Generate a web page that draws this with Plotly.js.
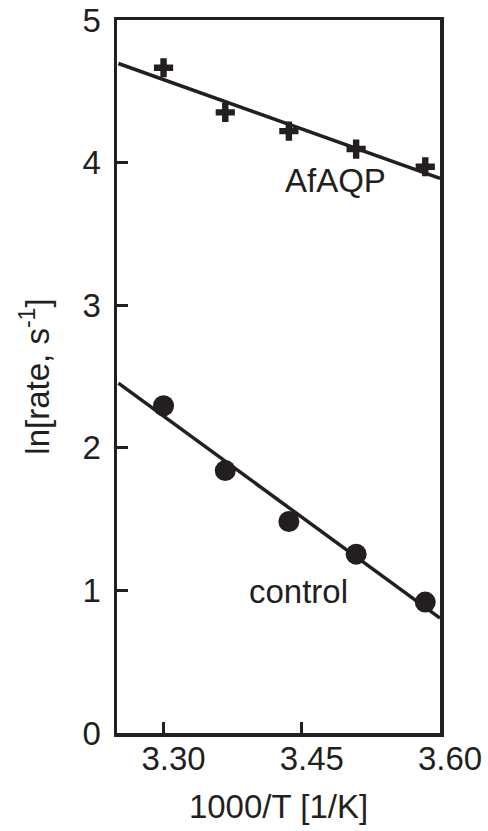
<!DOCTYPE html>
<html>
<head>
<meta charset="utf-8">
<script src="https://cdn.plot.ly/plotly-3.0.1.min.js"></script>
<style>html,body{margin:0;padding:0;background:#fff;}#chart{width:488px;height:831px;}</style>
</head>
<body>
<div id="chart"></div>
<script>
// 1000/T values (1/K)
const invT = [3.300, 3.367, 3.436, 3.509, 3.584];
// ln(rate) values
const afaqp = [4.665, 4.352, 4.221, 4.095, 3.971];
const control = [2.295, 1.840, 1.483, 1.254, 0.918];
// fitted lines (endpoints)
const fitX = [3.251, 3.600];
const afaqpFit = [4.695, 3.889];
const controlFit = [2.453, 0.806];
const xTicks = [3.30, 3.45, 3.60];
const xTickText = ['3.30', '3.45', '3.60'];
const yTicks = [0, 1, 2, 3, 4, 5];

const ink = '#231f20';
const font = 'Liberation Sans, Arial, sans-serif';
const fs = 33;

const traces = [
  {x: fitX, y: afaqpFit, mode: 'lines', line: {color: ink, width: 3.5}, showlegend: false, hoverinfo: 'skip'},
  {x: fitX, y: controlFit, mode: 'lines', line: {color: ink, width: 3.5}, showlegend: false, hoverinfo: 'skip'},
  {x: invT, y: afaqp, mode: 'markers', name: 'AfAQP', marker: {symbol: 'cross', size: 16, color: ink}, showlegend: false},
  {x: invT, y: control, mode: 'markers', name: 'control', marker: {symbol: 'circle', size: 21, color: ink}, showlegend: false}
];

const layout = {
  width: 488, height: 831,
  margin: {l: 117, r: 48, t: 20, b: 98},
  paper_bgcolor: '#fff', plot_bgcolor: '#fff',
  font: {family: font, color: ink, size: fs},
  showlegend: false,
  xaxis: {
    range: [3.2495, 3.60],
    tickvals: xTicks, ticktext: xTickText,
    ticks: 'inside', ticklen: 11, tickwidth: 3, tickcolor: ink,
    showline: true, linewidth: 3.5, linecolor: ink, mirror: true,
    showgrid: false, zeroline: false,
    ticklabelshift: 10, ticklabelstandoff: -6,
    tickfont: {family: font, size: fs, color: ink},
    title: {text: '1000/T [1/K]', font: {family: font, size: fs, color: ink}, standoff: 20}
  },
  yaxis: {
    range: [0, 5],
    tickvals: yTicks,
    ticks: 'inside', ticklen: 11, tickwidth: 3, tickcolor: ink,
    showline: true, linewidth: 3.5, linecolor: ink, mirror: true,
    showgrid: false, zeroline: false,
    ticklabelstandoff: 6,
    tickfont: {family: font, size: fs, color: ink},
    title: {text: 'ln[rate, s<sup>-1</sup>]', font: {family: font, size: fs, color: ink}, standoff: 24}
  },
  annotations: [
    {x: 3.487, y: 3.877, xref: 'x', yref: 'y', text: 'AfAQP', showarrow: false, font: {family: font, size: fs, color: ink}},
    {x: 3.446, y: 0.993, xref: 'x', yref: 'y', text: 'control', showarrow: false, font: {family: font, size: fs, color: ink}}
  ]
};

Plotly.newPlot('chart', traces, layout, {displayModeBar: false, staticPlot: true});
</script>
</body>
</html>
